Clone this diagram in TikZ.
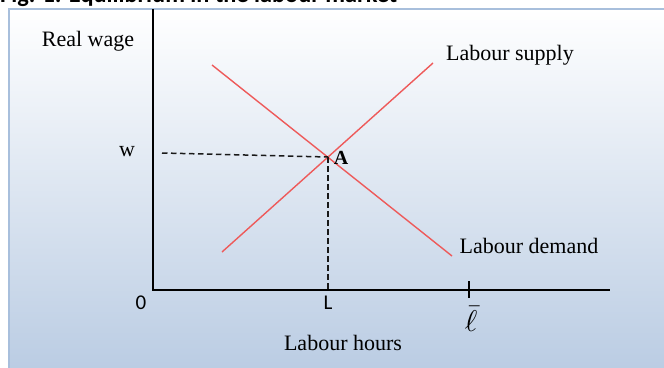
\documentclass[tikz,border=0pt]{standalone}
\usepackage{fontspec}
\usepackage{graphicx}
\setmainfont{Liberation Serif}
\newfontfamily\capfont{Carlito}
\begin{document}
\begin{tikzpicture}[x=1pt,y=-1pt,
  lbl/.style={inner sep=0pt,font=\fontsize{22}{24}\selectfont},
  numlbl/.style={inner sep=0pt,font=\capfont\fontsize{21}{22}\selectfont},
  axis/.style={line width=1.7pt,black},
  curve/.style={line width=1.4pt,color=curvered},
  guide/.style={line width=1.5pt,dashed,dash pattern=on 5.5pt off 3.5pt,black!90}]
\definecolor{curvered}{HTML}{EE5A5A}
\definecolor{bgtop}{HTML}{FFFFFF}
\definecolor{bgbot}{HTML}{BACCE3}
\definecolor{frame}{HTML}{A8BFDC}
\useasboundingbox (0,0) rectangle (664,367);
\clip (0,0) rectangle (664,367);
\fill[white] (0,0) rectangle (664,367);
\shade[top color=bgtop,bottom color=bgbot] (9,9) rectangle (670,372);
\draw[frame,line width=1.2pt] (9,372) -- (9,9) -- (670,9);
% caption, cut off at top
\node[anchor=base west,inner sep=0pt,font=\capfont\bfseries\fontsize{24.3}{25}\selectfont] (cap) at (0,2.5) {Fig. 1: Equilibrium in the labour market};
% axes
\coordinate (O) at (153,290);
\coordinate (ytop) at (153,9);
\coordinate (xend) at (610,290);
\draw[axis] (ytop) -- (O) -- (xend);
\coordinate (tickt) at (469,281);
\coordinate (tickb) at (469,298);
\draw[axis,line width=1.3pt] (tickt) -- (tickb);
% curves
\coordinate (s1) at (222,252);
\coordinate (s2) at (433,63);
\coordinate (d1) at (212,65);
\coordinate (d2) at (452,256);
\draw[curve] (s1) -- (s2);
\draw[curve] (d1) -- (d2);
\coordinate (A) at (328,157);
\coordinate (wd) at (162,153);
\coordinate (Lx) at (328,290);
\draw[guide] (wd) -- (A);
\draw[guide] (A) -- (Lx);
% labels
\node[lbl] (ylab) at (88,41) {Real wage};
\node[lbl] (wlab) at (127,152) {w};
\node[lbl,font=\bfseries\fontsize{20}{22}\selectfont] (Alab) at (341,158) {A};
\node[lbl] (slab) at (510,55) {Labour supply};
\node[lbl] (dlab) at (529,246) {Labour demand};
\node[numlbl] (zero) at (141,303) {0};
\node[numlbl] (Llab) at (328,303) {L};
\node[inner sep=0pt,anchor=north] (ell) at (471,306) {\scalebox{3}{$\bar{\ell}$}};
\node[lbl] (xlab) at (343,343) {Labour hours};
\end{tikzpicture}
\end{document}
